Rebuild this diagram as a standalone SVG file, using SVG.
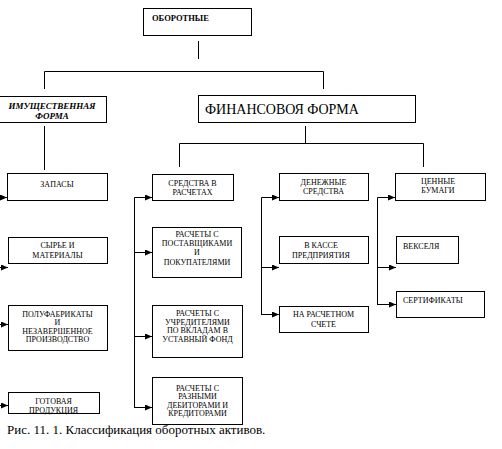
<svg xmlns="http://www.w3.org/2000/svg" width="502" height="449" viewBox="0 0 502 449" font-family="'Liberation Serif', 'Times New Roman', serif">
<defs>
<marker id="ah" markerUnits="userSpaceOnUse" markerWidth="7" markerHeight="6" refX="7" refY="3" orient="auto"><path d="M0,0 L7,3 L0,6 z" fill="#000"/></marker>
<style>
rect{fill:#fff;stroke:#000;stroke-width:1}
.c line,.c path{stroke:#000;stroke-width:1;fill:none}
.a{marker-end:url(#ah)}
text{fill:#000;font-size:8px}
.m{text-anchor:middle}
</style>
</defs>
<rect x="0" y="0" width="502" height="449" style="stroke:none"/>
<g class="c" id="connectors">
<line x1="198.5" y1="41" x2="198.5" y2="59"/>
<path d="M44.5,89 V71.5 H323.5 V89"/>
<line x1="44.5" y1="126" x2="44.5" y2="170"/>
<line x1="305.5" y1="126" x2="305.5" y2="143"/>
<path d="M179.5,167 V143.5 H423.5 V167"/>
<line class="a" x1="0" y1="197.5" x2="7" y2="197.5"/>
<line class="a" x1="0" y1="267.5" x2="8" y2="267.5"/>
<line class="a" x1="0" y1="324.5" x2="8" y2="324.5"/>
<line class="a" x1="0" y1="405.5" x2="8" y2="405.5"/>
<path class="a" d="M134.5,408 V197.5 H152"/>
<line class="a" x1="134" y1="252.5" x2="152" y2="252.5"/>
<line class="a" x1="134" y1="336.5" x2="152" y2="336.5"/>
<line class="a" x1="134" y1="407.5" x2="152" y2="407.5"/>
<path class="a" d="M261.5,314.5 V197.5 H279"/>
<line class="a" x1="261" y1="267.5" x2="279" y2="267.5"/>
<line class="a" x1="261" y1="314.5" x2="279" y2="314.5"/>
<path class="a" d="M377.5,304.5 V197.5 H395"/>
<line class="a" x1="377" y1="267.5" x2="396" y2="267.5"/>
<line class="a" x1="377" y1="304.5" x2="396" y2="304.5"/>
</g>
<g id="oborotnye"><rect x="143.5" y="8.5" width="108" height="27"/><text x="152" y="21" font-family="Liberation Serif, serif" style="font-weight:bold;font-size:8.5px">ОБОРОТНЫЕ</text></g>
<g id="imush"><rect x="-1.5" y="96.5" width="108" height="26"/><text class="m" x="52" y="109" style="font-weight:bold;font-style:italic;font-size:9px">ИМУЩЕСТВЕННАЯ</text><text class="m" x="52" y="118.5" style="font-weight:bold;font-style:italic;font-size:9px">ФОРМА</text></g>
<g id="finans"><rect x="198.5" y="95.5" width="217" height="27"/><text x="205" y="114" font-family="Liberation Serif, serif" style="font-size:14px">ФИНАНСОВОЯ ФОРМА</text></g>
<g id="zapasy"><rect x="7.5" y="173.5" width="100" height="27"/><text class="m" x="57" y="187">ЗАПАСЫ</text></g>
<g id="syrie"><rect x="8.5" y="237.5" width="99" height="26"/><text class="m" x="57.5" y="248">СЫРЬЕ И</text><text class="m" x="57.5" y="258">МАТЕРИАЛЫ</text></g>
<g id="polufab"><rect x="8.5" y="305.5" width="99" height="45"/><text class="m" x="57.5" y="317">ПОЛУФАБРИКАТЫ</text><text class="m" x="57.5" y="325">И</text><text class="m" x="57.5" y="334">НЕЗАВЕРШЕННОЕ</text><text class="m" x="57.5" y="342">ПРОИЗВОДСТВО</text></g>
<g id="gotovaya"><rect x="8.5" y="392.5" width="91" height="21"/><text class="m" x="53.5" y="403.5">ГОТОВАЯ</text><text class="m" x="53.5" y="412.5">ПРОДУКЦИЯ</text></g>
<g id="sredstva"><rect x="152.5" y="174.5" width="81" height="26"/><text class="m" x="192.5" y="185.5">СРЕДСТВА В</text><text class="m" x="192.5" y="194.5">РАСЧЕТАХ</text></g>
<g id="postav"><rect x="152.5" y="227.5" width="89" height="50"/><text class="m" x="197" y="237">РАСЧЕТЫ С</text><text class="m" x="197" y="246">ПОСТАВЩИКАМИ</text><text class="m" x="197" y="255">И</text><text class="m" x="197" y="264.5">ПОКУПАТЕЛЯМИ</text></g>
<g id="uchred"><rect x="152.5" y="305.5" width="90" height="52"/><text class="m" x="197.5" y="316">РАСЧЕТЫ С</text><text class="m" x="197.5" y="324.5">УЧРЕДИТЕЛЯМИ</text><text class="m" x="197.5" y="333">ПО ВКЛАДАМ В</text><text class="m" x="197.5" y="342">УСТАВНЫЙ ФОНД</text></g>
<g id="raznye"><rect x="152.5" y="377.5" width="90" height="47"/><text class="m" x="197.5" y="391">РАСЧЕТЫ С</text><text class="m" x="197.5" y="399">РАЗНЫМИ</text><text class="m" x="197.5" y="407.5">ДЕБИТОРАМИ И</text><text class="m" x="197.5" y="415.5">КРЕДИТОРАМИ</text></g>
<g id="denezh"><rect x="279.5" y="173.5" width="89" height="27"/><text class="m" x="323.5" y="185">ДЕНЕЖНЫЕ</text><text class="m" x="323.5" y="194">СРЕДСТВА</text></g>
<g id="kassa"><rect x="279.5" y="236.5" width="89" height="27"/><text class="m" x="321" y="248">В КАССЕ</text><text class="m" x="321" y="258">ПРЕДПРИЯТИЯ</text></g>
<g id="raschet"><rect x="279.5" y="306.5" width="89" height="26"/><text class="m" x="323.5" y="317">НА РАСЧЕТНОМ</text><text class="m" x="323.5" y="327">СЧЕТЕ</text></g>
<g id="cennye"><rect x="395.5" y="173.5" width="90" height="27"/><text class="m" x="438" y="184">ЦЕННЫЕ</text><text class="m" x="438" y="193">БУМАГИ</text></g>
<g id="veksel"><rect x="396.5" y="236.5" width="62" height="27"/><text x="403" y="249">ВЕКСЕЛЯ</text></g>
<g id="sertif"><rect x="396.5" y="291.5" width="88" height="26"/><text x="403" y="303">СЕРТИФИКАТЫ</text></g>
<text x="7" y="434" font-family="Liberation Serif, serif" style="font-size:13px">Рис. 11. 1. Классификация оборотных активов.</text>
</svg>
